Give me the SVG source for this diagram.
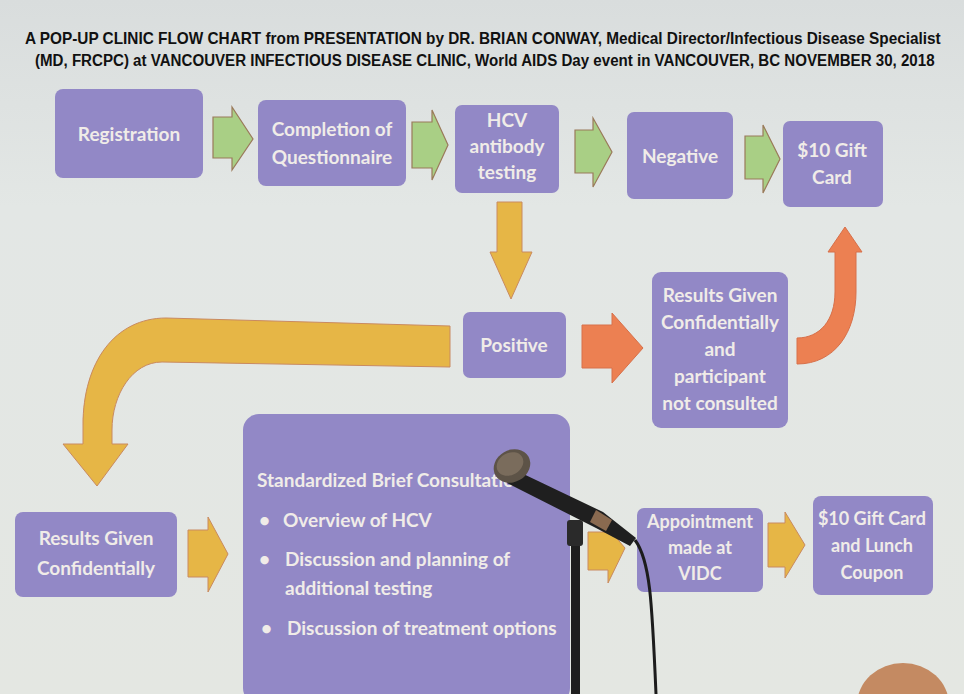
<svg xmlns="http://www.w3.org/2000/svg" width="964" height="694" viewBox="0 0 964 694">
<defs>
<linearGradient id="bg" x1="0" y1="0" x2="0" y2="1">
<stop offset="0" stop-color="#d9dddd"/>
<stop offset="0.3" stop-color="#e3e7e5"/>
<stop offset="1" stop-color="#e4e7e2"/>
</linearGradient>
<style>
.box{fill:#9288c6;}
.lbl{font-family:Lato,"Open Sans","Liberation Sans",sans-serif;font-weight:bold;font-size:19px;fill:#f0ece8;text-anchor:middle;}
.sm{font-size:18px;}
.lft{text-anchor:start;}
.title{font-family:"Liberation Sans",Arial,sans-serif;font-weight:bold;font-size:17px;fill:#111;}
.green{fill:#a9cf85;stroke:#9a7a5a;stroke-width:1.2;}
.yellow{fill:#e6b646;stroke:#c98a60;stroke-width:1;}
.orange{fill:#ec8052;stroke:#d7704a;stroke-width:1;}
</style>
</defs>
<rect x="0" y="0" width="964" height="694" fill="url(#bg)"/>

<g id="title">
<g transform="translate(25,44) scale(0.896,1)">
<text class="title" x="0" y="0" textLength="1022" lengthAdjust="spacingAndGlyphs">A POP-UP CLINIC FLOW CHART from PRESENTATION by DR. BRIAN CONWAY, Medical Director/Infectious Disease Specialist</text>
</g>
<g transform="translate(35,66) scale(0.888,1)">
<text class="title" x="0" y="0" textLength="1013" lengthAdjust="spacingAndGlyphs">(MD, FRCPC) at VANCOUVER INFECTIOUS DISEASE CLINIC, World AIDS Day event in VANCOUVER, BC NOVEMBER 30, 2018</text>
</g>
</g>

<g id="connectors">
<path class="green" d="M213,117 L232,117 L232,107 L253,139 L232,170 L232,158 L213,158 Z"/>
<path class="green" d="M412,122 L432,122 L432,110 L448,145 L432,180 L432,168 L412,168 Z"/>
<path class="green" d="M575,130 L593,130 L593,118 L612,152 L593,187 L593,173 L575,173 Z"/>
<path class="green" d="M745,136 L763,136 L763,125 L780,159 L763,193 L763,179 L745,179 Z"/>
<path class="yellow" d="M497,202 L522,202 L522,252 L532,252 L511,299 L490,252 L497,252 Z"/>
<path class="orange" d="M582,325 L612,325 L612,313 L643,348 L612,383 L612,368 L582,368 Z"/>
<path class="orange" d="M797,364 C835,364 856,332 856,292 L856,252 L862,252 L845,227 L828,252 L835,252 L835,292 C835,320 820,338 797,338 Z"/>
<path class="yellow" d="M450,326 L450,367 L162,362 C132,362 112,395 112,430 L112,444 L128,444 L97,486 L63,444 L83,444 L83,425 C83,362 115,318 166,318 Z"/>
<path class="yellow" d="M188,530 L208,530 L208,517 L228,554 L208,592 L208,577 L188,577 Z"/>
<path class="yellow" d="M588,532 L608,532 L608,528 L625,548 L608,583 L608,570 L588,570 Z"/>
<path class="yellow" d="M768,523 L785,523 L785,512 L805,545 L785,578 L785,567 L768,567 Z"/>
</g>

<g id="registration">
<rect class="box" x="55" y="89" width="148" height="89" rx="8"/>
<text class="lbl" x="129" y="141">Registration</text>
</g>
<g id="questionnaire">
<rect class="box" x="258" y="100" width="148" height="86" rx="8"/>
<text class="lbl" x="332" y="136">Completion of</text>
<text class="lbl" x="332" y="164">Questionnaire</text>
</g>
<g id="hcv">
<rect class="box" x="455" y="105" width="104" height="88" rx="7"/>
<text class="lbl" x="507" y="127">HCV</text>
<text class="lbl" x="507" y="153">antibody</text>
<text class="lbl" x="507" y="179">testing</text>
</g>
<g id="negative">
<rect class="box" x="627" y="112" width="106" height="87" rx="7"/>
<text class="lbl" x="680" y="163">Negative</text>
</g>
<g id="giftcard">
<rect class="box" x="783" y="121" width="100" height="86" rx="7"/>
<text class="lbl" x="832" y="157">$10 Gift</text>
<text class="lbl" x="832" y="184">Card</text>
</g>
<g id="positive">
<rect class="box" x="463" y="312" width="103" height="66" rx="7"/>
<text class="lbl" x="514" y="352">Positive</text>
</g>
<g id="results-not-consulted">
<rect class="box" x="652" y="272" width="136" height="156" rx="9"/>
<text class="lbl" x="720" y="302">Results Given</text>
<text class="lbl" x="720" y="329">Confidentially</text>
<text class="lbl" x="720" y="356">and</text>
<text class="lbl" x="720" y="383">participant</text>
<text class="lbl" x="720" y="410">not consulted</text>
</g>
<g id="results-confidential">
<rect class="box" x="15" y="512" width="162" height="85" rx="8"/>
<text class="lbl" x="96" y="545">Results Given</text>
<text class="lbl" x="96" y="575">Confidentially</text>
</g>
<g id="consultation">
<rect class="box" x="243" y="414" width="327" height="290" rx="16"/>
<text class="lbl lft" x="257" y="487">Standardized Brief Consultation</text>
<text class="lbl lft" x="259" y="527">•</text>
<text class="lbl lft" x="283" y="527">Overview of HCV</text>
<text class="lbl lft" x="259" y="566">•</text>
<text class="lbl lft" x="285" y="566">Discussion and planning of</text>
<text class="lbl lft" x="285" y="595">additional testing</text>
<text class="lbl lft" x="261" y="635">•</text>
<text class="lbl lft" x="287" y="635">Discussion of treatment options</text>
</g>
<g id="appointment">
<rect class="box" x="637" y="508" width="126" height="84" rx="7"/>
<text class="lbl sm" x="700" y="528">Appointment</text>
<text class="lbl sm" x="700" y="554">made at</text>
<text class="lbl sm" x="700" y="580">VIDC</text>
</g>
<g id="giftcard-lunch">
<rect class="box" x="813" y="496" width="120" height="99" rx="8"/>
<text class="lbl sm" x="872" y="525">$10 Gift Card</text>
<text class="lbl sm" x="872" y="552">and Lunch</text>
<text class="lbl sm" x="872" y="579">Coupon</text>
</g>

<g id="microphone">
<path d="M635,540 C650,560 652,600 656,694" fill="none" stroke="#1c1c1c" stroke-width="3"/>
<rect x="571" y="525" width="9" height="169" fill="#1e1e1e"/>
<rect x="567" y="520" width="16" height="26" rx="3" fill="#2a2a2a"/>
<path d="M515,470 L603,512 L636,538 L630,546 L596,528 L507,483 Z" fill="#1f1f1f"/>
<path d="M596,510 L612,520 L606,531 L590,522 Z" fill="#8a6a50"/>
<ellipse cx="512" cy="466" rx="19" ry="16" transform="rotate(-30 512 466)" fill="#5d5347"/>
<ellipse cx="510" cy="464" rx="14" ry="11" transform="rotate(-30 510 464)" fill="#7a6c5c"/>
</g>
<ellipse cx="903" cy="705" rx="46" ry="42" fill="#c48a62"/>
</svg>
